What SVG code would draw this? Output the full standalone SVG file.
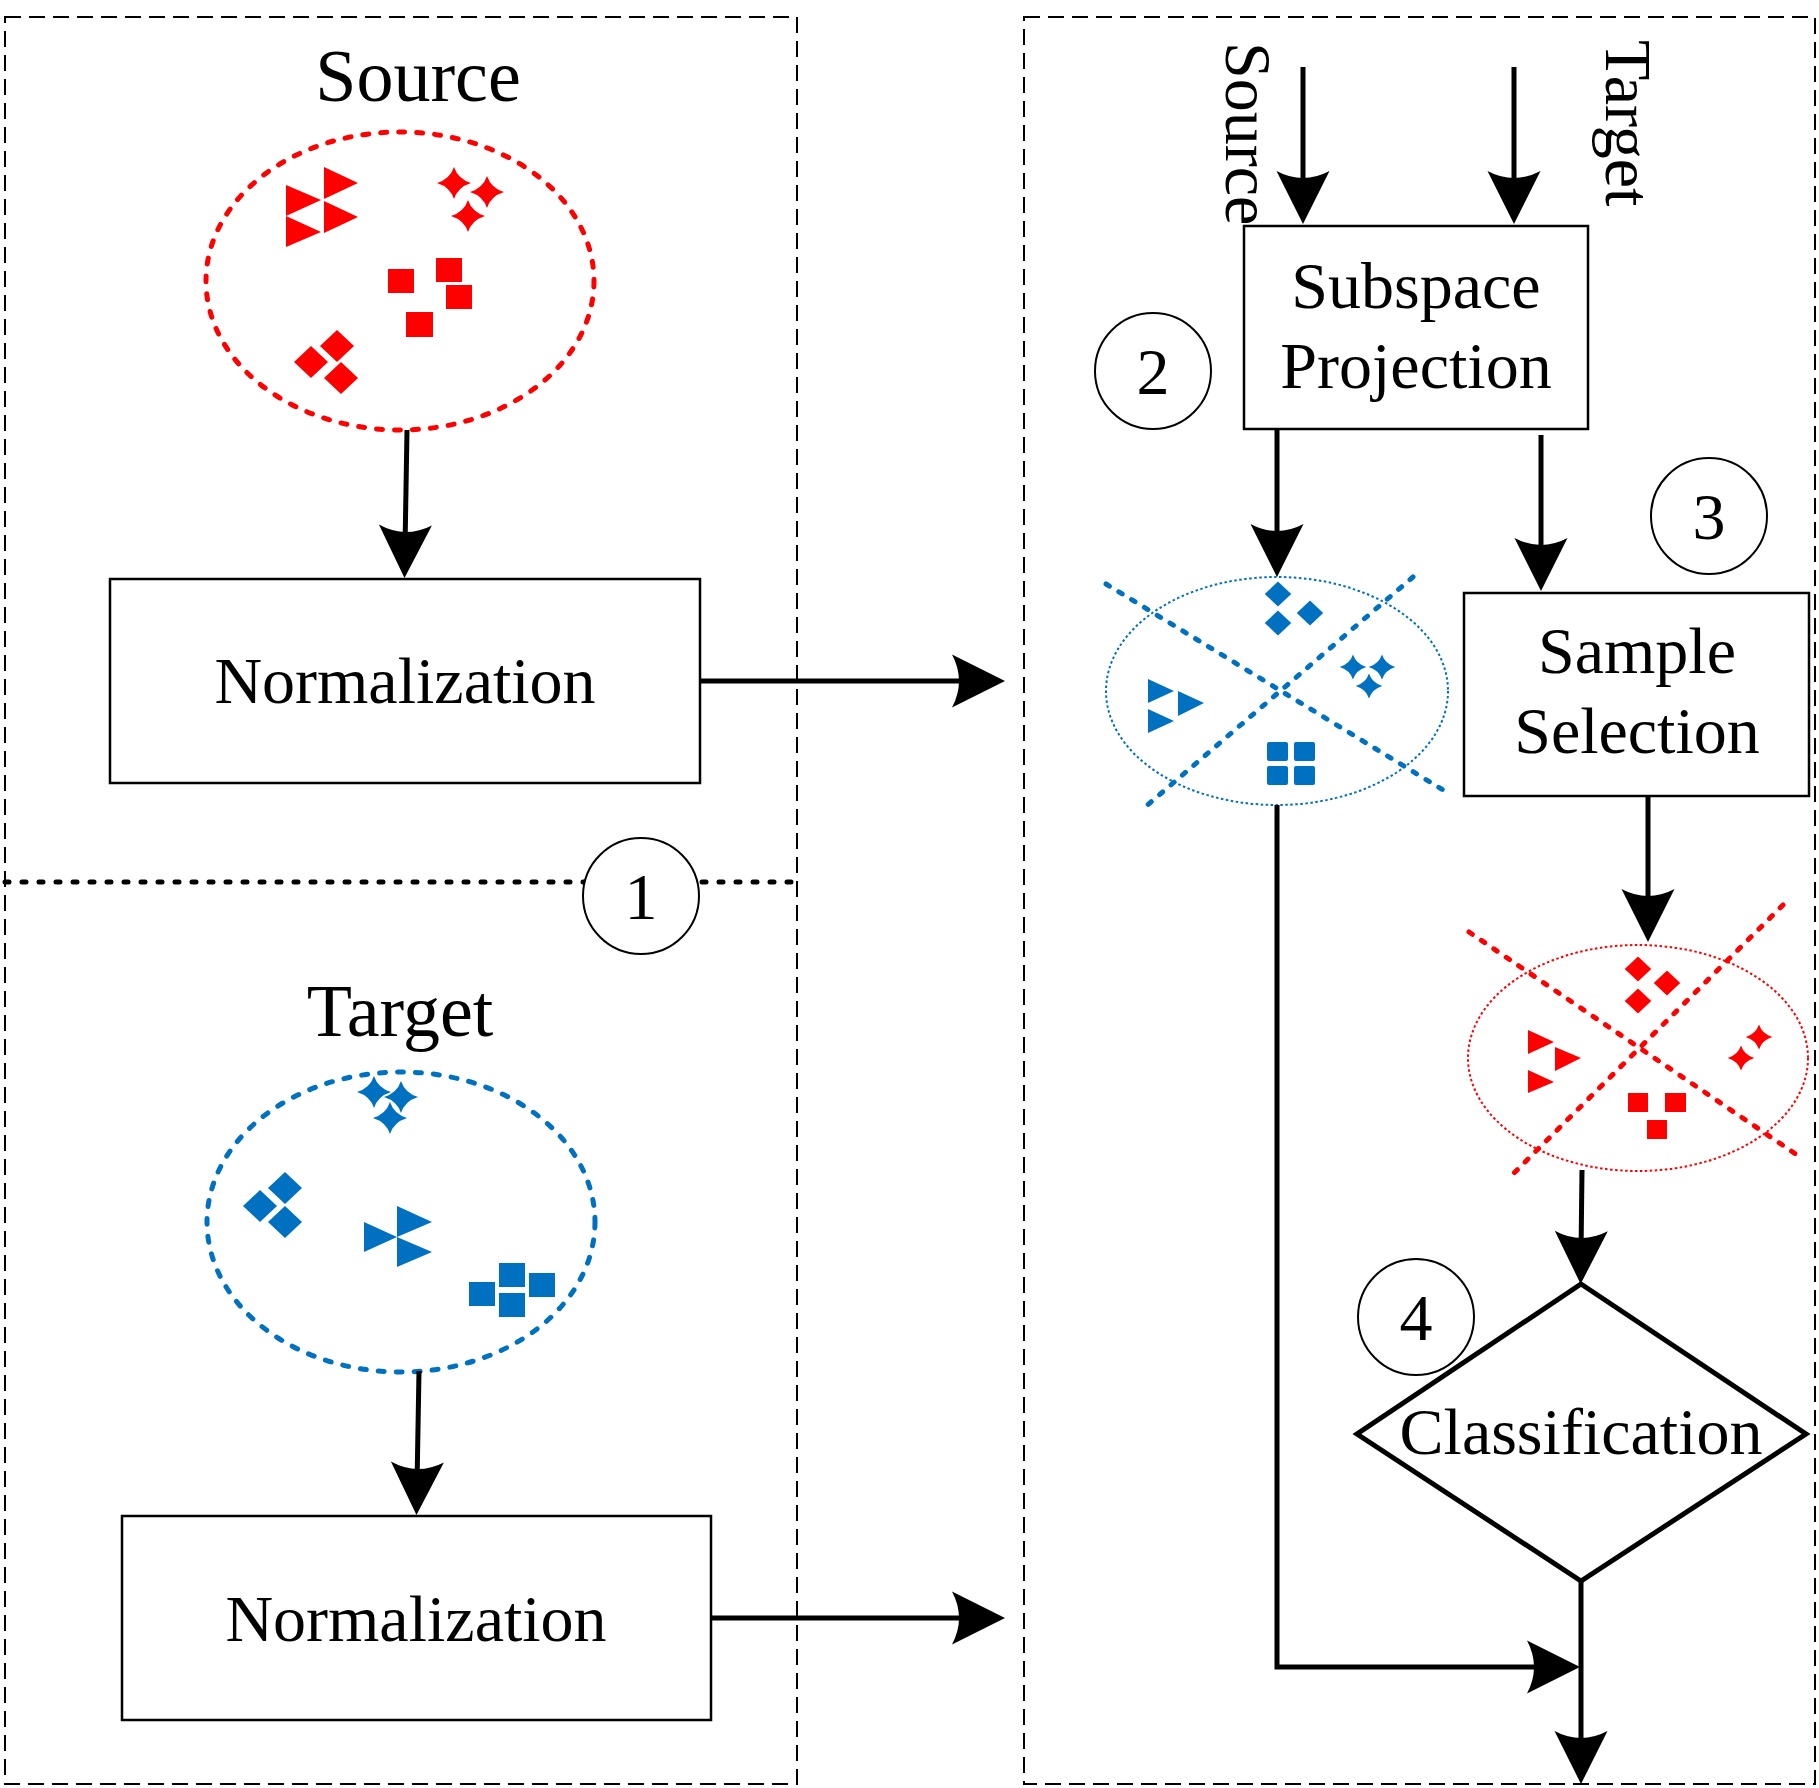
<svg xmlns="http://www.w3.org/2000/svg" xmlns:xlink="http://www.w3.org/1999/xlink" width="1819" height="1788" viewBox="0 0 1819 1788">
<style>
.panel{fill:none;stroke:#000;stroke-width:2;stroke-dasharray:16 8}
.box{fill:#fff;stroke:#000;stroke-width:2.5}
.circ{fill:#fff;stroke:#000;stroke-width:2}
.txt{font-family:"Liberation Serif","Times New Roman",serif;fill:#000}
.t66{font-size:66px}
.t74{font-size:74px}
.conn{fill:none;stroke:#000;stroke-width:5}
.r{fill:#FF0000}
.b{fill:#0070C0}
.ellR{fill:none;stroke:#FF0000;stroke-width:5;stroke-dasharray:6 12;stroke-linecap:round}
.ellB{fill:none;stroke:#0070C0;stroke-width:5;stroke-dasharray:6 12;stroke-linecap:round}
.thinB{fill:none;stroke:#0070C0;stroke-width:2;stroke-dasharray:2.5 2.5}
.thinR{fill:none;stroke:#FF0000;stroke-width:2;stroke-dasharray:2.5 2.5}
.crossB{fill:none;stroke:#0070C0;stroke-width:5;stroke-dasharray:4 11;stroke-linecap:round}
.crossR{fill:none;stroke:#FF0000;stroke-width:5;stroke-dasharray:4 11;stroke-linecap:round}
.dotline{fill:none;stroke:#000;stroke-width:5;stroke-dasharray:4 13;stroke-linecap:round}
</style>
<defs>
<marker id="arr" markerUnits="userSpaceOnUse" viewBox="-56 -28 60 56" refX="-30" refY="0" markerWidth="60" markerHeight="56" orient="auto">
<path d="M0,0 L-53,-26.5 Q-39,0 -53,26.5 Z" fill="#000"/>
</marker>
<path id="star" d="M0,-16 Q4,-4 17,0 Q4,4 0,16 Q-4,4 -17,0 Q-4,-4 0,-16Z"/>
<path id="dia" d="M0,-16 L17,0 L0,16 L-17,0Z"/>
</defs>
<rect width="1819" height="1788" fill="#fff"/>

<g id="left-panel">
<rect class="panel" x="5" y="17" width="792" height="1767"/>
<line class="dotline" x1="5" y1="882" x2="797" y2="882"/>
</g>
<g id="right-panel">
<rect class="panel" x="1024" y="17" width="791" height="1767"/>
</g>

<g id="source-cluster">
<text class="txt t74" x="418" y="101" text-anchor="middle">Source</text>
<ellipse class="ellR" cx="400" cy="281" rx="194" ry="149"/>
<g class="r">
<polygon points="286,185 321,200 286,216"/>
<polygon points="286,216 321,232 286,247"/>
<polygon points="324,167 358,183 324,199"/>
<polygon points="324,201 358,217 324,233"/>
<use xlink:href="#star" x="454" y="183"/>
<use xlink:href="#star" x="487" y="192"/>
<use xlink:href="#star" x="468" y="216"/>
<rect x="388" y="269" width="26" height="24"/>
<rect x="436" y="258" width="26" height="24"/>
<rect x="446" y="285" width="26" height="24"/>
<rect x="406" y="312" width="27" height="25"/>
<use xlink:href="#dia" x="337" y="346"/>
<use xlink:href="#dia" x="311" y="362"/>
<use xlink:href="#dia" x="341" y="378"/>
</g>
</g>

<g id="norm-source">
<rect class="box" x="110" y="579" width="590" height="204"/>
<text class="txt t66" x="405" y="703" text-anchor="middle">Normalization</text>
</g>

<g id="step-1">
<circle class="circ" cx="641" cy="896" r="58"/>
<text class="txt t66" x="641" y="919" text-anchor="middle">1</text>
</g>

<g id="target-cluster">
<text class="txt t74" x="400" y="1036" text-anchor="middle">Target</text>
<ellipse class="ellB" cx="401" cy="1222" rx="194" ry="150"/>
<g class="b">
<use xlink:href="#star" x="374" y="1092"/>
<use xlink:href="#star" x="401" y="1097"/>
<use xlink:href="#star" x="390" y="1118"/>
<use xlink:href="#dia" x="285" y="1188"/>
<use xlink:href="#dia" x="260" y="1206"/>
<use xlink:href="#dia" x="285" y="1222"/>
<polygon points="364,1222 397,1237 364,1252"/>
<polygon points="397,1206 432,1222 397,1237"/>
<polygon points="397,1237 432,1252 397,1267"/>
<rect x="469" y="1282" width="26" height="24"/>
<rect x="499" y="1263" width="26" height="24"/>
<rect x="499" y="1293" width="26" height="24"/>
<rect x="529" y="1273" width="26" height="24"/>
</g>
</g>

<g id="norm-target">
<rect class="box" x="122" y="1516" width="589" height="204"/>
<text class="txt t66" x="416" y="1641" text-anchor="middle">Normalization</text>
</g>

<g id="input-labels">
<text class="txt t66" transform="translate(1226,42) rotate(90)">Source</text>
<text class="txt t66" transform="translate(1606,40) rotate(90)">Target</text>
</g>

<g id="subspace">
<rect class="box" x="1244" y="226" width="344" height="203"/>
<text class="txt t66" x="1416" y="308" text-anchor="middle">Subspace</text>
<text class="txt t66" x="1416" y="388" text-anchor="middle">Projection</text>
</g>

<g id="step-2">
<circle class="circ" cx="1153" cy="371" r="58"/>
<text class="txt t66" x="1153" y="394" text-anchor="middle">2</text>
</g>

<g id="step-3">
<circle class="circ" cx="1709" cy="516" r="58"/>
<text class="txt t66" x="1709" y="539" text-anchor="middle">3</text>
</g>

<g id="sample">
<rect class="box" x="1464" y="593" width="345" height="203"/>
<text class="txt t66" x="1637" y="673" text-anchor="middle">Sample</text>
<text class="txt t66" x="1637" y="753" text-anchor="middle">Selection</text>
</g>

<g id="projected-cluster">
<ellipse class="thinB" cx="1277" cy="691" rx="171" ry="114"/>
<line class="crossB" x1="1106" y1="584" x2="1448" y2="793"/>
<line class="crossB" x1="1413" y1="577" x2="1144" y2="808"/>
<g class="b">
<use xlink:href="#dia" transform="translate(1278,594) scale(0.78)"/>
<use xlink:href="#dia" transform="translate(1278,623) scale(0.78)"/>
<use xlink:href="#dia" transform="translate(1310,613) scale(0.78)"/>
<use xlink:href="#star" transform="translate(1353,667) scale(0.78)"/>
<use xlink:href="#star" transform="translate(1382,667) scale(0.78)"/>
<use xlink:href="#star" transform="translate(1369,686) scale(0.78)"/>
<polygon points="1148,679 1174,691 1148,703"/>
<polygon points="1148,709 1174,721 1148,733"/>
<polygon points="1178,691 1204,703 1178,716"/>
<rect x="1267" y="742" width="21" height="19" rx="2"/>
<rect x="1294" y="742" width="21" height="19" rx="2"/>
<rect x="1267" y="766" width="21" height="19" rx="2"/>
<rect x="1294" y="766" width="21" height="19" rx="2"/>
</g>
</g>

<g id="selected-cluster">
<ellipse class="thinR" cx="1638" cy="1058" rx="170" ry="113"/>
<line class="crossR" x1="1469" y1="932" x2="1803" y2="1159"/>
<line class="crossR" x1="1783" y1="905" x2="1514" y2="1173"/>
<g class="r">
<use xlink:href="#dia" transform="translate(1638,969) scale(0.78)"/>
<use xlink:href="#dia" transform="translate(1667,983) scale(0.78)"/>
<use xlink:href="#dia" transform="translate(1638,1001) scale(0.78)"/>
<polygon points="1528,1030 1554,1042 1528,1054"/>
<polygon points="1528,1070 1554,1082 1528,1093"/>
<polygon points="1555,1047 1581,1058 1555,1071"/>
<use xlink:href="#star" transform="translate(1759,1037) scale(0.78)"/>
<use xlink:href="#star" transform="translate(1741,1058) scale(0.78)"/>
<rect x="1628" y="1093" width="20" height="19"/>
<rect x="1665" y="1093" width="21" height="19"/>
<rect x="1647" y="1120" width="20" height="19"/>
</g>
</g>

<g id="classification">
<polygon points="1581,1284 1806,1434 1581,1581 1357,1434" fill="#fff" stroke="#000" stroke-width="5"/>
<text class="txt t66" x="1581" y="1454" text-anchor="middle">Classification</text>
</g>

<g id="step-4">
<circle class="circ" cx="1416" cy="1317" r="58" fill="none"/>
<text class="txt t66" x="1416" y="1340" text-anchor="middle">4</text>
</g>

<g id="connectors">
<line class="conn" x1="407" y1="430" x2="405" y2="548" marker-end="url(#arr)"/>
<line class="conn" x1="700" y1="681" x2="975" y2="681" marker-end="url(#arr)"/>
<line class="conn" x1="419" y1="1371" x2="417" y2="1485" marker-end="url(#arr)"/>
<line class="conn" x1="711" y1="1618" x2="975" y2="1618" marker-end="url(#arr)"/>
<line class="conn" x1="1303" y1="67" x2="1303" y2="194" marker-end="url(#arr)"/>
<line class="conn" x1="1514" y1="67" x2="1514" y2="194" marker-end="url(#arr)"/>
<line class="conn" x1="1277" y1="429" x2="1277" y2="547" marker-end="url(#arr)"/>
<line class="conn" x1="1541" y1="435" x2="1541" y2="561" marker-end="url(#arr)"/>
<line class="conn" x1="1648" y1="796" x2="1648" y2="912" marker-end="url(#arr)"/>
<line class="conn" x1="1582" y1="1170" x2="1581" y2="1254" marker-end="url(#arr)"/>
<path class="conn" d="M1277,805 L1277,1667 L1550,1667" marker-end="url(#arr)"/>
<line class="conn" x1="1581" y1="1581" x2="1581" y2="1754" marker-end="url(#arr)"/>
</g>
</svg>
